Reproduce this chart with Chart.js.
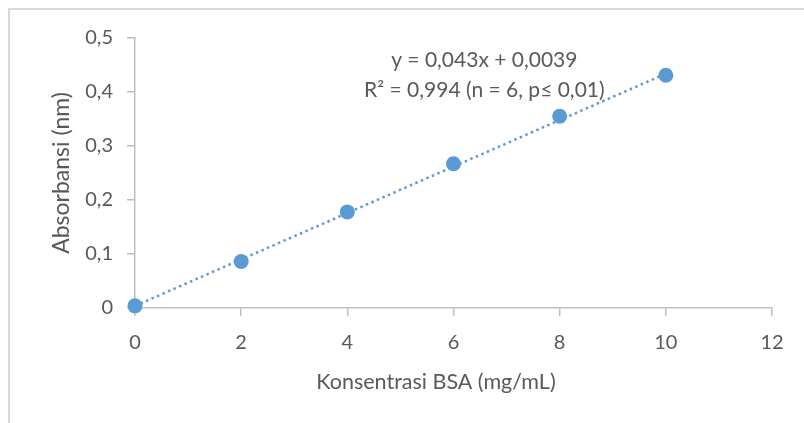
<!DOCTYPE html>
<html>
<head>
<meta charset="utf-8">
<script src="https://cdn.jsdelivr.net/npm/chart.js@4/dist/chart.umd.min.js"></script>
<style>
html,body{margin:0;padding:0;background:#fff;}
#wrap{width:804px;height:423px;position:relative;}
</style>
</head>
<body>
<div id="wrap"><canvas id="c" width="804" height="423"></canvas></div>
<script>
// Data
const concentrations = [0, 2, 4, 6, 8, 10];
const absorbances = [0.004, 0.086, 0.178, 0.267, 0.355, 0.431];
const trendX = [0, 10];
const trendY = [0.0039, 0.4339];
const equationLines = ['y = 0,043x + 0,0039', 'R\u00B2 = 0,994 (n = 6, p\u2264 0,01)'];
const xTitle = 'Konsentrasi BSA (mg/mL)';
const yTitle = 'Absorbansi (nm)';

const FONT = 'Lato, "Open Sans", sans-serif';
const TEXT = '#595959';
const AXIS = '#bfbfbf';
const BLUE = '#5b9bd5';

const frame = {
  id: 'frame',
  beforeDraw(chart) {
    const ctx = chart.ctx;
    ctx.save();
    ctx.fillStyle = '#fff';
    ctx.fillRect(0, 0, chart.width, chart.height);
    ctx.strokeStyle = '#d9d9d9';
    ctx.lineWidth = 2;
    ctx.beginPath();
    ctx.moveTo(9, chart.height);
    ctx.lineTo(9, 9);
    ctx.lineTo(chart.width, 9);
    ctx.stroke();
    ctx.restore();
  },
  afterDatasetsDraw(chart) {
    const ctx = chart.ctx;
    const xs = chart.scales.x, ys = chart.scales.y;
    ctx.save();
    ctx.fillStyle = TEXT;
    ctx.textAlign = 'center';
    ctx.textBaseline = 'middle';
    ctx.font = '21px ' + FONT;
    const cx = xs.getPixelForValue(6.58);
    ctx.fillText(equationLines[0], cx, ys.getPixelForValue(0.4597));
    ctx.fillText(equationLines[1], cx, ys.getPixelForValue(0.4035));
    // x-axis title (Excel places it slightly left of the plot centre)
    ctx.font = '21.5px ' + FONT;
    ctx.fillText(xTitle, xs.getPixelForValue(5.67), xs.bottom - 41);
    ctx.restore();
  }
};

const pts = concentrations.map((x, i) => ({x, y: absorbances[i]}));
const trend = trendX.map((x, i) => ({x, y: trendY[i]}));

new Chart(document.getElementById('c'), {
  type: 'scatter',
  data: {
    datasets: [
      {
        type: 'line',
        data: trend,
        borderColor: BLUE,
        borderWidth: 2.5,
        borderDash: [2.5, 3.5],
        pointRadius: 0,
        fill: false,
        order: 2
      },
      {
        data: pts,
        backgroundColor: BLUE,
        borderColor: BLUE,
        pointRadius: 7.5,
        pointHoverRadius: 7.5,
        borderWidth: 0,
        clip: false,
        order: 1
      }
    ]
  },
  options: {
    responsive: false,
    animation: false,
    events: [],
    layout: { padding: { top: 38, right: 32, left: 0, bottom: 0 } },
    plugins: { legend: { display: false }, tooltip: { enabled: false } },
    scales: {
      x: {
        type: 'linear',
        min: 0, max: 12,
        afterFit(s) { s.height = 115; },
        ticks: { stepSize: 2, color: TEXT, font: { family: FONT, size: 20 }, padding: 15 },
        grid: { drawOnChartArea: false, drawTicks: true, tickLength: 8, color: AXIS, lineWidth: 1.5 },
        border: { color: AXIS, width: 1.5 },
        title: { display: false, text: xTitle }
      },
      y: {
        min: 0, max: 0.5,
        afterFit(s) { s.width = 135; },
        ticks: {
          stepSize: 0.1, color: TEXT, font: { family: FONT, size: 20 }, padding: 14,
          callback: v => v === 0 ? '0' : v.toFixed(1).replace('.', ',')
        },
        grid: { drawOnChartArea: false, drawTicks: true, tickLength: 8, color: AXIS, lineWidth: 1.5 },
        border: { color: AXIS, width: 1.5 },
        title: { display: true, text: yTitle, color: TEXT, font: { family: FONT, size: 23 }, padding: { top: 48, bottom: 0 } }
      }
    }
  },
  plugins: [frame]
});
</script>
</body>
</html>
